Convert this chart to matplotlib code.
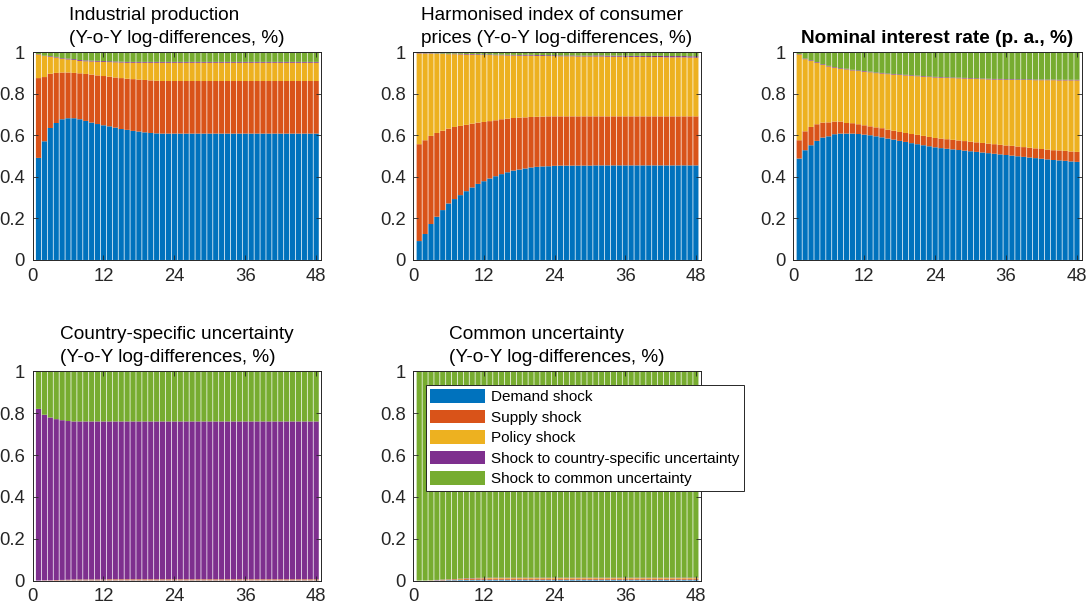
import matplotlib
matplotlib.use("Agg")
import matplotlib.pyplot as plt
import numpy as np

plt.rcParams["font.family"] = ["Liberation Sans", "DejaVu Sans"]

horizon = np.arange(1, 49)
shock_names = ["Demand shock", "Supply shock", "Policy shock",
               "Shock to country-specific uncertainty", "Shock to common uncertainty"]
shock_colors = ["#0072BD", "#D95319", "#EDB120", "#7E2F8E", "#77AC30"]

# Industrial production
ip_demand = [0.491, 0.571, 0.635, 0.659, 0.677, 0.682, 0.682, 0.677, 0.669, 0.661, 0.654, 0.648,
             0.643, 0.637, 0.630, 0.626, 0.621, 0.618, 0.614, 0.611, 0.609, 0.608, 0.608, 0.608,
             0.608, 0.608, 0.608, 0.608, 0.608, 0.608, 0.608, 0.608, 0.608, 0.608, 0.608, 0.608,
             0.608, 0.608, 0.608, 0.608, 0.608, 0.608, 0.608, 0.608, 0.608, 0.608, 0.608, 0.608]
ip_supply = [0.384, 0.309, 0.261, 0.241, 0.225, 0.220, 0.218, 0.221, 0.226, 0.231, 0.234, 0.237,
             0.239, 0.241, 0.245, 0.246, 0.249, 0.250, 0.252, 0.253, 0.253, 0.253, 0.253, 0.253,
             0.253, 0.253, 0.253, 0.253, 0.253, 0.253, 0.253, 0.253, 0.253, 0.253, 0.253, 0.253,
             0.253, 0.253, 0.253, 0.253, 0.253, 0.253, 0.253, 0.253, 0.253, 0.253, 0.253, 0.253]
ip_policy = [0.114, 0.101, 0.082, 0.074, 0.066, 0.063, 0.062, 0.060, 0.061, 0.063, 0.066, 0.068,
             0.070, 0.073, 0.075, 0.077, 0.079, 0.081, 0.083, 0.085, 0.087, 0.088, 0.088, 0.088,
             0.088, 0.088, 0.088, 0.088, 0.088, 0.088, 0.088, 0.088, 0.088, 0.088, 0.088, 0.088,
             0.088, 0.088, 0.088, 0.088, 0.088, 0.088, 0.088, 0.088, 0.088, 0.088, 0.088, 0.088]
ip_country = [0.002, 0.002, 0.003, 0.003, 0.003, 0.004, 0.004, 0.004, 0.004, 0.004, 0.004, 0.004,
              0.004, 0.004, 0.004, 0.004, 0.004, 0.004, 0.004, 0.004, 0.004, 0.004, 0.004, 0.004,
              0.004, 0.004, 0.004, 0.004, 0.004, 0.004, 0.004, 0.004, 0.004, 0.004, 0.004, 0.004,
              0.004, 0.004, 0.004, 0.004, 0.004, 0.004, 0.004, 0.004, 0.004, 0.004, 0.004, 0.004]
ip_common = [0.009, 0.017, 0.019, 0.023, 0.029, 0.031, 0.034, 0.038, 0.040, 0.041, 0.042, 0.043,
             0.044, 0.045, 0.046, 0.047, 0.047, 0.047, 0.047, 0.047, 0.047, 0.047, 0.047, 0.047,
             0.047, 0.047, 0.047, 0.047, 0.047, 0.047, 0.047, 0.047, 0.047, 0.047, 0.047, 0.047,
             0.047, 0.047, 0.047, 0.047, 0.047, 0.047, 0.047, 0.047, 0.047, 0.047, 0.047, 0.047]

# Harmonised index of consumer prices
hicp_demand = [0.091, 0.125, 0.173, 0.208, 0.240, 0.272, 0.293, 0.312, 0.331, 0.349, 0.366, 0.379,
               0.392, 0.403, 0.413, 0.422, 0.430, 0.435, 0.440, 0.445, 0.448, 0.450, 0.451, 0.453,
               0.454, 0.454, 0.454, 0.454, 0.454, 0.454, 0.455, 0.455, 0.455, 0.455, 0.455, 0.455,
               0.455, 0.455, 0.455, 0.455, 0.455, 0.455, 0.455, 0.455, 0.455, 0.455, 0.455, 0.455]
hicp_supply = [0.466, 0.451, 0.424, 0.403, 0.382, 0.360, 0.347, 0.333, 0.319, 0.307, 0.295, 0.285,
               0.276, 0.269, 0.264, 0.258, 0.253, 0.250, 0.246, 0.243, 0.241, 0.240, 0.240, 0.238,
               0.237, 0.237, 0.237, 0.237, 0.237, 0.237, 0.236, 0.236, 0.236, 0.236, 0.236, 0.236,
               0.236, 0.236, 0.236, 0.236, 0.236, 0.236, 0.236, 0.236, 0.236, 0.236, 0.236, 0.236]
hicp_policy = [0.437, 0.417, 0.396, 0.381, 0.369, 0.358, 0.350, 0.344, 0.338, 0.332, 0.326, 0.322,
               0.318, 0.313, 0.308, 0.304, 0.301, 0.298, 0.297, 0.295, 0.293, 0.292, 0.290, 0.290,
               0.289, 0.289, 0.289, 0.288, 0.288, 0.288, 0.288, 0.288, 0.287, 0.287, 0.287, 0.287,
               0.286, 0.286, 0.286, 0.285, 0.285, 0.285, 0.284, 0.284, 0.284, 0.284, 0.283, 0.283]
hicp_country = [0.002, 0.002, 0.002, 0.002, 0.002, 0.002, 0.003, 0.003, 0.003, 0.003, 0.003, 0.003,
                0.003, 0.003, 0.003, 0.003, 0.003, 0.003, 0.004, 0.004, 0.004, 0.004, 0.004, 0.004,
                0.004, 0.004, 0.004, 0.004, 0.004, 0.004, 0.005, 0.005, 0.005, 0.005, 0.005, 0.005,
                0.005, 0.005, 0.005, 0.005, 0.006, 0.006, 0.006, 0.006, 0.006, 0.006, 0.006, 0.006]
hicp_common = [0.004, 0.005, 0.005, 0.006, 0.007, 0.008, 0.007, 0.008, 0.009, 0.009, 0.010, 0.011,
               0.011, 0.012, 0.012, 0.013, 0.013, 0.014, 0.013, 0.013, 0.014, 0.014, 0.015, 0.015,
               0.016, 0.016, 0.016, 0.017, 0.017, 0.017, 0.016, 0.016, 0.017, 0.017, 0.017, 0.017,
               0.018, 0.018, 0.018, 0.019, 0.018, 0.018, 0.019, 0.019, 0.019, 0.019, 0.020, 0.020]

# Nominal interest rate
rate_demand = [0.488, 0.528, 0.552, 0.573, 0.589, 0.595, 0.605, 0.608, 0.608, 0.608, 0.606, 0.603,
               0.600, 0.595, 0.590, 0.584, 0.579, 0.573, 0.568, 0.562, 0.557, 0.552, 0.547, 0.542,
               0.538, 0.535, 0.532, 0.529, 0.526, 0.523, 0.520, 0.517, 0.514, 0.511, 0.508, 0.505,
               0.502, 0.499, 0.496, 0.493, 0.490, 0.487, 0.484, 0.481, 0.479, 0.477, 0.474, 0.472]
rate_supply = [0.088, 0.091, 0.088, 0.080, 0.072, 0.067, 0.061, 0.058, 0.051, 0.050, 0.047, 0.045,
               0.043, 0.043, 0.044, 0.043, 0.043, 0.043, 0.043, 0.044, 0.045, 0.045, 0.045, 0.045,
               0.046, 0.046, 0.046, 0.046, 0.046, 0.046, 0.046, 0.046, 0.046, 0.046, 0.046, 0.046,
               0.047, 0.047, 0.047, 0.047, 0.047, 0.047, 0.047, 0.047, 0.048, 0.048, 0.048, 0.048]
rate_policy = [0.413, 0.347, 0.318, 0.296, 0.278, 0.269, 0.259, 0.254, 0.258, 0.254, 0.256, 0.258,
               0.260, 0.261, 0.263, 0.267, 0.270, 0.274, 0.277, 0.280, 0.282, 0.285, 0.288, 0.291,
               0.293, 0.295, 0.297, 0.299, 0.301, 0.303, 0.305, 0.307, 0.309, 0.311, 0.314, 0.316,
               0.318, 0.320, 0.323, 0.326, 0.328, 0.331, 0.334, 0.337, 0.337, 0.339, 0.342, 0.344]
rate_country = [0.002, 0.003, 0.003, 0.003, 0.003, 0.003, 0.003, 0.003, 0.003, 0.003, 0.003, 0.003,
                0.003, 0.003, 0.003, 0.003, 0.003, 0.003, 0.003, 0.003, 0.003, 0.003, 0.003, 0.003,
                0.003, 0.003, 0.003, 0.003, 0.003, 0.003, 0.003, 0.003, 0.003, 0.003, 0.003, 0.003,
                0.003, 0.003, 0.003, 0.003, 0.003, 0.003, 0.003, 0.003, 0.003, 0.003, 0.003, 0.003]
rate_common = [0.009, 0.031, 0.039, 0.048, 0.058, 0.066, 0.072, 0.077, 0.080, 0.085, 0.088, 0.091,
               0.094, 0.098, 0.100, 0.103, 0.105, 0.107, 0.109, 0.111, 0.113, 0.115, 0.117, 0.119,
               0.120, 0.121, 0.122, 0.123, 0.124, 0.125, 0.126, 0.127, 0.128, 0.129, 0.129, 0.130,
               0.130, 0.131, 0.131, 0.131, 0.132, 0.132, 0.132, 0.132, 0.133, 0.133, 0.133, 0.133]

# Country-specific uncertainty
cu_demand = [0.000, 0.000, 0.000, 0.000, 0.001, 0.001, 0.001, 0.001, 0.001, 0.001, 0.001, 0.001,
             0.001, 0.001, 0.001, 0.001, 0.001, 0.001, 0.001, 0.001, 0.001, 0.001, 0.001, 0.001,
             0.001, 0.001, 0.001, 0.001, 0.001, 0.001, 0.001, 0.001, 0.001, 0.001, 0.001, 0.001,
             0.001, 0.001, 0.001, 0.001, 0.001, 0.001, 0.001, 0.001, 0.001, 0.001, 0.001, 0.001]
cu_supply = [0.000, 0.001, 0.001, 0.002, 0.002, 0.003, 0.003, 0.003, 0.003, 0.003, 0.003, 0.003,
             0.004, 0.004, 0.004, 0.004, 0.004, 0.004, 0.004, 0.004, 0.004, 0.004, 0.004, 0.004,
             0.004, 0.004, 0.004, 0.004, 0.004, 0.004, 0.004, 0.004, 0.004, 0.004, 0.004, 0.004,
             0.004, 0.004, 0.004, 0.004, 0.004, 0.004, 0.004, 0.004, 0.004, 0.004, 0.004, 0.004]
cu_policy = [0.000, 0.000, 0.000, 0.000, 0.000, 0.000, 0.001, 0.001, 0.001, 0.001, 0.001, 0.001,
             0.001, 0.001, 0.001, 0.001, 0.001, 0.001, 0.001, 0.001, 0.001, 0.001, 0.001, 0.001,
             0.001, 0.001, 0.001, 0.001, 0.001, 0.001, 0.001, 0.001, 0.001, 0.001, 0.001, 0.001,
             0.001, 0.001, 0.001, 0.001, 0.001, 0.001, 0.001, 0.001, 0.001, 0.001, 0.001, 0.001]
cu_country = [0.821, 0.792, 0.779, 0.770, 0.764, 0.759, 0.756, 0.756, 0.756, 0.756, 0.756, 0.756,
              0.755, 0.755, 0.755, 0.755, 0.755, 0.755, 0.755, 0.755, 0.755, 0.755, 0.755, 0.755,
              0.755, 0.755, 0.755, 0.755, 0.755, 0.755, 0.755, 0.755, 0.755, 0.755, 0.755, 0.755,
              0.755, 0.755, 0.755, 0.755, 0.755, 0.755, 0.755, 0.755, 0.755, 0.755, 0.755, 0.755]
cu_common = [0.179, 0.207, 0.220, 0.228, 0.233, 0.237, 0.239, 0.239, 0.239, 0.239, 0.239, 0.239,
             0.239, 0.239, 0.239, 0.239, 0.239, 0.239, 0.239, 0.239, 0.239, 0.239, 0.239, 0.239,
             0.239, 0.239, 0.239, 0.239, 0.239, 0.239, 0.239, 0.239, 0.239, 0.239, 0.239, 0.239,
             0.239, 0.239, 0.239, 0.239, 0.239, 0.239, 0.239, 0.239, 0.239, 0.239, 0.239, 0.239]

# Common uncertainty
gu_demand = [0.000, 0.000, 0.000, 0.001, 0.001, 0.002, 0.002, 0.003, 0.003, 0.003, 0.004, 0.004,
             0.004, 0.004, 0.004, 0.004, 0.004, 0.004, 0.004, 0.004, 0.004, 0.004, 0.004, 0.004,
             0.004, 0.004, 0.004, 0.004, 0.004, 0.004, 0.004, 0.004, 0.004, 0.004, 0.004, 0.004,
             0.004, 0.004, 0.004, 0.004, 0.004, 0.004, 0.004, 0.004, 0.004, 0.004, 0.004, 0.004]
gu_supply = [0.000, 0.000, 0.001, 0.001, 0.002, 0.002, 0.003, 0.003, 0.004, 0.004, 0.004, 0.004,
             0.005, 0.005, 0.005, 0.005, 0.005, 0.005, 0.005, 0.005, 0.005, 0.005, 0.005, 0.005,
             0.005, 0.005, 0.005, 0.005, 0.005, 0.005, 0.005, 0.005, 0.005, 0.005, 0.005, 0.005,
             0.005, 0.005, 0.005, 0.005, 0.005, 0.005, 0.005, 0.005, 0.005, 0.005, 0.005, 0.005]
gu_policy = [0.000, 0.000, 0.000, 0.000, 0.001, 0.001, 0.001, 0.002, 0.002, 0.002, 0.003, 0.003,
             0.003, 0.003, 0.003, 0.003, 0.003, 0.003, 0.003, 0.003, 0.003, 0.003, 0.003, 0.003,
             0.003, 0.003, 0.003, 0.003, 0.003, 0.003, 0.003, 0.003, 0.003, 0.003, 0.003, 0.003,
             0.003, 0.003, 0.003, 0.003, 0.003, 0.003, 0.003, 0.003, 0.003, 0.003, 0.003, 0.003]
gu_country = [0.000, 0.000, 0.000, 0.001, 0.001, 0.001, 0.001, 0.001, 0.002, 0.002, 0.002, 0.002,
              0.002, 0.002, 0.002, 0.002, 0.002, 0.002, 0.002, 0.002, 0.002, 0.002, 0.002, 0.002,
              0.002, 0.002, 0.002, 0.002, 0.002, 0.002, 0.002, 0.002, 0.002, 0.002, 0.002, 0.002,
              0.002, 0.002, 0.002, 0.002, 0.002, 0.002, 0.002, 0.002, 0.002, 0.002, 0.002, 0.002]
gu_common = [1.000, 1.000, 0.999, 0.997, 0.995, 0.994, 0.993, 0.991, 0.989, 0.989, 0.987, 0.987,
             0.986, 0.986, 0.986, 0.986, 0.986, 0.986, 0.986, 0.986, 0.986, 0.986, 0.986, 0.986,
             0.986, 0.986, 0.986, 0.986, 0.986, 0.986, 0.986, 0.986, 0.986, 0.986, 0.986, 0.986,
             0.986, 0.986, 0.986, 0.986, 0.986, 0.986, 0.986, 0.986, 0.986, 0.986, 0.986, 0.986]

panels = [
    ("Industrial production\n(Y-o-Y log-differences, %)", "normal",
     [ip_demand, ip_supply, ip_policy, ip_country, ip_common]),
    ("Harmonised index of consumer\nprices (Y-o-Y log-differences, %)", "normal",
     [hicp_demand, hicp_supply, hicp_policy, hicp_country, hicp_common]),
    ("Nominal interest rate (p. a., %)", "bold",
     [rate_demand, rate_supply, rate_policy, rate_country, rate_common]),
    ("Country-specific uncertainty\n(Y-o-Y log-differences, %)", "normal",
     [cu_demand, cu_supply, cu_policy, cu_country, cu_common]),
    ("Common uncertainty\n(Y-o-Y log-differences, %)", "normal",
     [gu_demand, gu_supply, gu_policy, gu_country, gu_common]),
]

# axes rectangles in figure fractions
rects = [
    [0.0300, 0.571, 0.2655, 0.343],
    [0.3806, 0.571, 0.2645, 0.343],
    [0.7305, 0.571, 0.2655, 0.343],
    [0.0300, 0.042, 0.2655, 0.345],
    [0.3806, 0.042, 0.2645, 0.345],
]

fig = plt.figure(figsize=(10.86, 6.06), dpi=100)
axes = []
for rect, (title, weight, shares) in zip(rects, panels):
    ax = fig.add_axes(rect)
    bottom = np.zeros(len(horizon))
    for vals, name, col in zip(shares, shock_names, shock_colors):
        # snap off so the thin gaps between bars come out even
        ax.bar(horizon, vals, width=0.88, bottom=bottom, color=col, linewidth=0,
               label=name, snap=False)
        bottom += np.array(vals)
    ax.set_xlim(0, 48.8)
    ax.set_ylim(0, 1)
    ax.set_xticks([0, 12, 24, 36, 48])
    ax.set_yticks([0, 0.2, 0.4, 0.6, 0.8, 1])
    ax.set_yticklabels(["0", "0.2", "0.4", "0.6", "0.8", "1"])
    ax.tick_params(direction="in", length=3.5, width=0.6, top=True, right=True,
                   labelsize=13.3, colors="#262626", pad=5.5)
    for sp in ax.spines.values():
        sp.set_linewidth(0.7)
        sp.set_color("#262626")
    t = ax.set_title(title, fontsize=13.7, fontweight=weight, pad=6.5, linespacing=1.5)
    t.set_multialignment("left")
    axes.append(ax)

handles, labels = axes[4].get_legend_handles_labels()
leg = axes[4].legend(handles, labels, loc="upper left", bbox_to_anchor=(0.392, 0.365),
                     bbox_transform=fig.transFigure, borderaxespad=0, fontsize=11,
                     frameon=True, fancybox=False, framealpha=1, edgecolor="#262626",
                     handlelength=3.6, handleheight=1.0, handletextpad=0.35,
                     labelspacing=0.35, borderpad=0.3)
leg.get_frame().set_linewidth(0.7)

fig.savefig("out.png", dpi=100)
